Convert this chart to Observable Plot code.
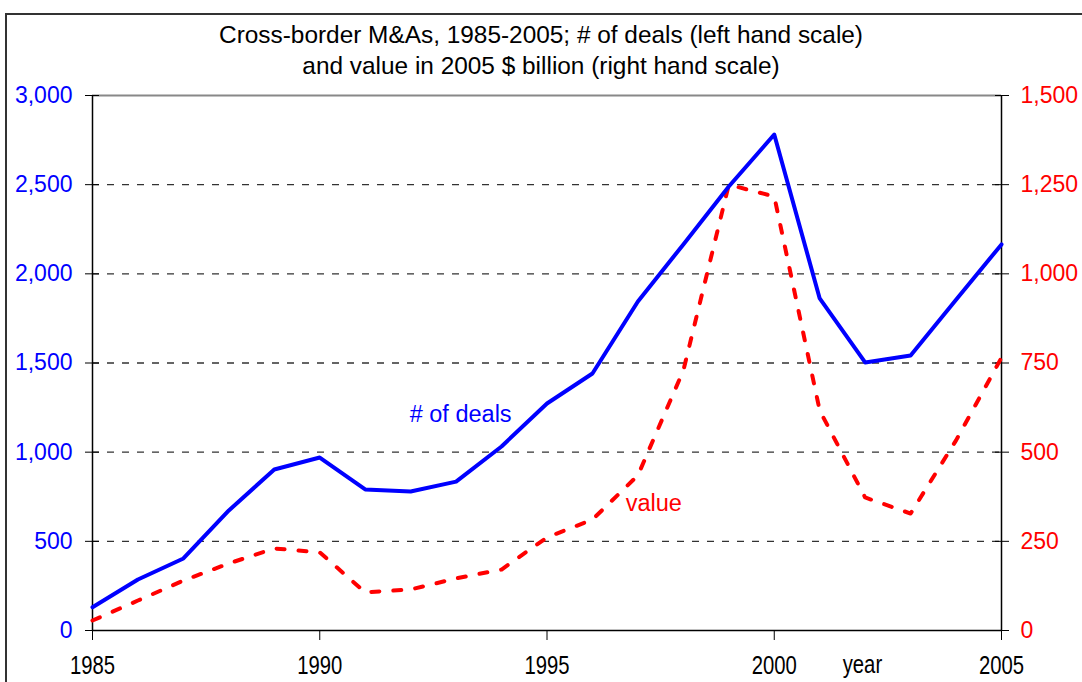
<!DOCTYPE html>
<html>
<head>
<meta charset="utf-8">
<script src="https://cdn.jsdelivr.net/npm/d3@7"></script>
<script src="https://cdn.jsdelivr.net/npm/@observablehq/plot@0.6"></script>
<style>
  html, body { margin: 0; padding: 0; background: #fff; overflow: hidden; }
  #frame { position: absolute; left: 5px; top: 13px; width: 1100px; height: 700px; border: 2px solid #333; box-sizing: border-box; }
  #chart { position: absolute; left: 0; top: 0; }
  svg { font-family: "Liberation Sans", Arial, sans-serif; }
</style>
</head>
<body>
<div id="frame"></div>
<div id="chart"></div>
<script>
const years = [1985,1986,1987,1988,1989,1990,1991,1992,1993,1994,1995,1996,1997,1998,1999,2000,2001,2002,2003,2004,2005];
const deals = [130,286,404,673,903,970,791,779,835,1032,1273,1441,1845,2165,2490,2781,1862,1503,1542,1855,2165];
const values = [28,84,140,188,230,219,107,115,146,171,261,311,435,729,1250,1217,617,373,328,533,765];
const leftTicks = [0,500,1000,1500,2000,2500,3000];
const gridTicks = [500,1000,1500,2000,2500];
const xTicks = [1985,1990,1995,2000,2005];
const titleText = "Cross-border M&As, 1985-2005; # of deals (left hand scale)\nand value in 2005 $ billion (right hand scale)";
const labels = [
  {text: "# of deals", x: 1993.1, y: 1211, color: "#0000ff"},
  {text: "value", x: 1997.35, y: 712, color: "#ff0000"}
];

const dealRows = years.map((yr, i) => ({year: yr, v: deals[i]}));
const valueRows = years.map((yr, i) => ({year: yr, v: values[i] * 2}));

const chart = Plot.plot({
  width: 1082,
  height: 682,
  marginLeft: 92,
  marginRight: 81,
  marginTop: 95,
  marginBottom: 52,
  style: {fontSize: "23px", fontFamily: "Liberation Sans, Arial, sans-serif", background: "transparent"},
  x: {domain: [1985, 2005]},
  y: {domain: [0, 3000]},
  marks: [
    Plot.ruleY(gridTicks, {stroke: "#333", strokeWidth: 1.3, strokeDasharray: "7,8"}),
    Plot.ruleY([3000], {stroke: "#888", strokeWidth: 2}),
    Plot.ruleY([0], {stroke: "#000", strokeWidth: 1.5}),
    Plot.ruleX([1985, 2005], {stroke: "#000", strokeWidth: 1.5}),
    // left ticks (cross both sides)
    Plot.axisY({ticks: leftTicks, tickSize: 7, tickFormat: () => "", label: null, stroke: "#000"}),
    Plot.axisY({ticks: leftTicks, tickSize: -7, tickFormat: () => "", label: null, stroke: "#000"}),
    Plot.axisY({ticks: leftTicks, tickSize: 0, tickPadding: 20, tickFormat: d3.format(","), label: null, fill: "#0000ff", fontSize: 23}),
    // right ticks
    Plot.axisY({anchor: "right", ticks: leftTicks, tickSize: 7, tickFormat: () => "", label: null, stroke: "#000"}),
    Plot.axisY({anchor: "right", ticks: leftTicks, tickSize: -7, tickFormat: () => "", label: null, stroke: "#000"}),
    Plot.axisY({anchor: "right", ticks: leftTicks, tickSize: 0, tickPadding: 19, tickFormat: d => d3.format(",")(d / 2), label: null, fill: "#ff0000", fontSize: 23}),
    // x axis
    Plot.axisX({ticks: xTicks, tickSize: 10, tickFormat: () => "", label: null, stroke: "#000"}),
    Plot.axisX({ticks: xTicks, tickSize: 0, tickPadding: 25, tickFormat: d => String(d), label: null, fill: "#000", fontSize: 26, ariaLabel: "xlabels", className: "narrowtext"}),
    Plot.text(["year"], {x: [2001.94], frameAnchor: "bottom", dy: 42, fill: "#000", fontSize: 26, text: d => d, className: "narrowtext"}),
    // series
    Plot.line(valueRows, {x: "year", y: "v", stroke: "#ff0000", strokeWidth: 4, strokeDasharray: "8,14"}),
    Plot.line(dealRows, {x: "year", y: "v", stroke: "#0000ff", strokeWidth: 4}),
    Plot.text(labels, {x: "x", y: "y", text: "text", fill: "color", fontSize: 23.5}),
    // title
    Plot.text([titleText], {frameAnchor: "top", dx: -6, dy: -47, lineAnchor: "middle", lineHeight: 1.25, fontSize: 24.4, fill: "#000", text: d => d})
  ]
});
// condense the x-axis labels horizontally (narrow-font look)
d3.select(chart).selectAll(".narrowtext text").each(function() {
  const t = this.getAttribute("transform") || "";
  this.setAttribute("transform", (t + " scale(0.78,1)").trim());
});
d3.select(chart).selectAll("text.narrowtext, g.narrowtext > text").each(function() {
  if (!(this.getAttribute("transform") || "").includes("scale")) {
    const t = this.getAttribute("transform") || "";
    this.setAttribute("transform", (t + " scale(0.78,1)").trim());
  }
});
document.getElementById("chart").appendChild(chart);
</script>
</body>
</html>
